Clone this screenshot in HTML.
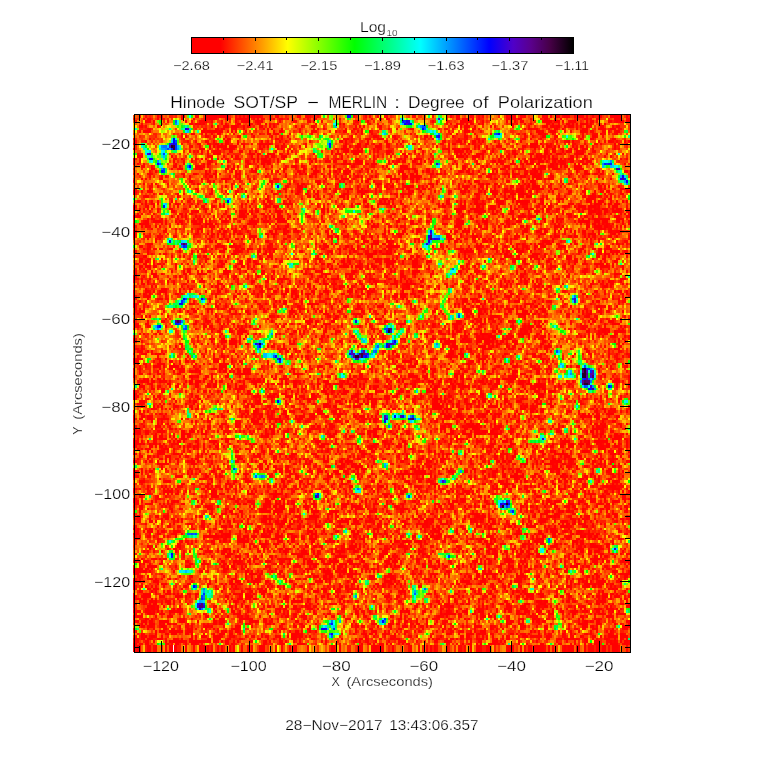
<!DOCTYPE html>
<html><head><meta charset="utf-8"><style>
html,body{margin:0;padding:0;background:#fff;width:764px;height:768px;overflow:hidden}
#c{position:absolute;left:133px;top:115px;width:497px;height:537px;background:#f35004}
svg{position:absolute;left:0;top:0}
text{font-family:"Liberation Sans",sans-serif;fill:#000;stroke:#fff;stroke-width:0.25px}
</style></head><body>
<canvas id="c" width="497" height="537"></canvas>
<svg width="764" height="768" viewBox="0 0 764 768" shape-rendering="crispEdges">
<defs><linearGradient id="cb" x1="0" x2="1" y1="0" y2="0"><stop offset="0.0000" stop-color="rgb(255,0,0)"/><stop offset="0.0750" stop-color="rgb(255,0,0)"/><stop offset="0.1650" stop-color="rgb(255,128,0)"/><stop offset="0.2510" stop-color="rgb(255,255,0)"/><stop offset="0.4270" stop-color="rgb(0,255,0)"/><stop offset="0.6000" stop-color="rgb(0,255,255)"/><stop offset="0.7800" stop-color="rgb(0,0,255)"/><stop offset="0.8430" stop-color="rgb(80,0,200)"/><stop offset="0.8900" stop-color="rgb(90,0,140)"/><stop offset="0.9400" stop-color="rgb(70,0,70)"/><stop offset="1.0000" stop-color="rgb(0,0,0)"/></linearGradient></defs><rect x="192" y="38" width="381" height="15" fill="url(#cb)"/><rect x="191.5" y="37.5" width="382" height="16" fill="none" stroke="#000" stroke-width="1"/><line x1="191.5" y1="37" x2="191.5" y2="41" stroke="#000"/><line x1="191.5" y1="50" x2="191.5" y2="54" stroke="#000"/><line x1="223.5" y1="37" x2="223.5" y2="40" stroke="#000"/><line x1="223.5" y1="51" x2="223.5" y2="54" stroke="#000"/><line x1="255.5" y1="37" x2="255.5" y2="41" stroke="#000"/><line x1="255.5" y1="50" x2="255.5" y2="54" stroke="#000"/><line x1="286.5" y1="37" x2="286.5" y2="40" stroke="#000"/><line x1="286.5" y1="51" x2="286.5" y2="54" stroke="#000"/><line x1="318.5" y1="37" x2="318.5" y2="41" stroke="#000"/><line x1="318.5" y1="50" x2="318.5" y2="54" stroke="#000"/><line x1="350.5" y1="37" x2="350.5" y2="40" stroke="#000"/><line x1="350.5" y1="51" x2="350.5" y2="54" stroke="#000"/><line x1="382.5" y1="37" x2="382.5" y2="41" stroke="#000"/><line x1="382.5" y1="50" x2="382.5" y2="54" stroke="#000"/><line x1="414.5" y1="37" x2="414.5" y2="40" stroke="#000"/><line x1="414.5" y1="51" x2="414.5" y2="54" stroke="#000"/><line x1="446.5" y1="37" x2="446.5" y2="41" stroke="#000"/><line x1="446.5" y1="50" x2="446.5" y2="54" stroke="#000"/><line x1="477.5" y1="37" x2="477.5" y2="40" stroke="#000"/><line x1="477.5" y1="51" x2="477.5" y2="54" stroke="#000"/><line x1="509.5" y1="37" x2="509.5" y2="41" stroke="#000"/><line x1="509.5" y1="50" x2="509.5" y2="54" stroke="#000"/><line x1="541.5" y1="37" x2="541.5" y2="40" stroke="#000"/><line x1="541.5" y1="51" x2="541.5" y2="54" stroke="#000"/><line x1="573.5" y1="37" x2="573.5" y2="41" stroke="#000"/><line x1="573.5" y1="50" x2="573.5" y2="54" stroke="#000"/><rect x="134.5" y="114.5" width="496" height="538" fill="none" stroke="#000"/><line x1="139.5" y1="114" x2="139.5" y2="121" stroke="#000"/><line x1="139.5" y1="653" x2="139.5" y2="646" stroke="#000"/><line x1="161.5" y1="114" x2="161.5" y2="126" stroke="#000"/><line x1="161.5" y1="653" x2="161.5" y2="641" stroke="#000"/><line x1="183.5" y1="114" x2="183.5" y2="121" stroke="#000"/><line x1="183.5" y1="653" x2="183.5" y2="646" stroke="#000"/><line x1="205.5" y1="114" x2="205.5" y2="121" stroke="#000"/><line x1="205.5" y1="653" x2="205.5" y2="646" stroke="#000"/><line x1="227.5" y1="114" x2="227.5" y2="121" stroke="#000"/><line x1="227.5" y1="653" x2="227.5" y2="646" stroke="#000"/><line x1="249.5" y1="114" x2="249.5" y2="126" stroke="#000"/><line x1="249.5" y1="653" x2="249.5" y2="641" stroke="#000"/><line x1="270.5" y1="114" x2="270.5" y2="121" stroke="#000"/><line x1="270.5" y1="653" x2="270.5" y2="646" stroke="#000"/><line x1="292.5" y1="114" x2="292.5" y2="121" stroke="#000"/><line x1="292.5" y1="653" x2="292.5" y2="646" stroke="#000"/><line x1="314.5" y1="114" x2="314.5" y2="121" stroke="#000"/><line x1="314.5" y1="653" x2="314.5" y2="646" stroke="#000"/><line x1="336.5" y1="114" x2="336.5" y2="126" stroke="#000"/><line x1="336.5" y1="653" x2="336.5" y2="641" stroke="#000"/><line x1="358.5" y1="114" x2="358.5" y2="121" stroke="#000"/><line x1="358.5" y1="653" x2="358.5" y2="646" stroke="#000"/><line x1="380.5" y1="114" x2="380.5" y2="121" stroke="#000"/><line x1="380.5" y1="653" x2="380.5" y2="646" stroke="#000"/><line x1="402.5" y1="114" x2="402.5" y2="121" stroke="#000"/><line x1="402.5" y1="653" x2="402.5" y2="646" stroke="#000"/><line x1="424.5" y1="114" x2="424.5" y2="126" stroke="#000"/><line x1="424.5" y1="653" x2="424.5" y2="641" stroke="#000"/><line x1="446.5" y1="114" x2="446.5" y2="121" stroke="#000"/><line x1="446.5" y1="653" x2="446.5" y2="646" stroke="#000"/><line x1="468.5" y1="114" x2="468.5" y2="121" stroke="#000"/><line x1="468.5" y1="653" x2="468.5" y2="646" stroke="#000"/><line x1="490.5" y1="114" x2="490.5" y2="121" stroke="#000"/><line x1="490.5" y1="653" x2="490.5" y2="646" stroke="#000"/><line x1="511.5" y1="114" x2="511.5" y2="126" stroke="#000"/><line x1="511.5" y1="653" x2="511.5" y2="641" stroke="#000"/><line x1="533.5" y1="114" x2="533.5" y2="121" stroke="#000"/><line x1="533.5" y1="653" x2="533.5" y2="646" stroke="#000"/><line x1="555.5" y1="114" x2="555.5" y2="121" stroke="#000"/><line x1="555.5" y1="653" x2="555.5" y2="646" stroke="#000"/><line x1="577.5" y1="114" x2="577.5" y2="121" stroke="#000"/><line x1="577.5" y1="653" x2="577.5" y2="646" stroke="#000"/><line x1="599.5" y1="114" x2="599.5" y2="126" stroke="#000"/><line x1="599.5" y1="653" x2="599.5" y2="641" stroke="#000"/><line x1="621.5" y1="114" x2="621.5" y2="121" stroke="#000"/><line x1="621.5" y1="653" x2="621.5" y2="646" stroke="#000"/><line x1="134" y1="647.5" x2="140" y2="647.5" stroke="#000"/><line x1="631" y1="647.5" x2="625" y2="647.5" stroke="#000"/><line x1="134" y1="625.5" x2="140" y2="625.5" stroke="#000"/><line x1="631" y1="625.5" x2="625" y2="625.5" stroke="#000"/><line x1="134" y1="603.5" x2="140" y2="603.5" stroke="#000"/><line x1="631" y1="603.5" x2="625" y2="603.5" stroke="#000"/><line x1="134" y1="581.5" x2="145" y2="581.5" stroke="#000"/><line x1="631" y1="581.5" x2="620" y2="581.5" stroke="#000"/><line x1="134" y1="560.5" x2="140" y2="560.5" stroke="#000"/><line x1="631" y1="560.5" x2="625" y2="560.5" stroke="#000"/><line x1="134" y1="538.5" x2="140" y2="538.5" stroke="#000"/><line x1="631" y1="538.5" x2="625" y2="538.5" stroke="#000"/><line x1="134" y1="516.5" x2="140" y2="516.5" stroke="#000"/><line x1="631" y1="516.5" x2="625" y2="516.5" stroke="#000"/><line x1="134" y1="494.5" x2="145" y2="494.5" stroke="#000"/><line x1="631" y1="494.5" x2="620" y2="494.5" stroke="#000"/><line x1="134" y1="472.5" x2="140" y2="472.5" stroke="#000"/><line x1="631" y1="472.5" x2="625" y2="472.5" stroke="#000"/><line x1="134" y1="450.5" x2="140" y2="450.5" stroke="#000"/><line x1="631" y1="450.5" x2="625" y2="450.5" stroke="#000"/><line x1="134" y1="428.5" x2="140" y2="428.5" stroke="#000"/><line x1="631" y1="428.5" x2="625" y2="428.5" stroke="#000"/><line x1="134" y1="406.5" x2="145" y2="406.5" stroke="#000"/><line x1="631" y1="406.5" x2="620" y2="406.5" stroke="#000"/><line x1="134" y1="384.5" x2="140" y2="384.5" stroke="#000"/><line x1="631" y1="384.5" x2="625" y2="384.5" stroke="#000"/><line x1="134" y1="363.5" x2="140" y2="363.5" stroke="#000"/><line x1="631" y1="363.5" x2="625" y2="363.5" stroke="#000"/><line x1="134" y1="341.5" x2="140" y2="341.5" stroke="#000"/><line x1="631" y1="341.5" x2="625" y2="341.5" stroke="#000"/><line x1="134" y1="319.5" x2="145" y2="319.5" stroke="#000"/><line x1="631" y1="319.5" x2="620" y2="319.5" stroke="#000"/><line x1="134" y1="297.5" x2="140" y2="297.5" stroke="#000"/><line x1="631" y1="297.5" x2="625" y2="297.5" stroke="#000"/><line x1="134" y1="275.5" x2="140" y2="275.5" stroke="#000"/><line x1="631" y1="275.5" x2="625" y2="275.5" stroke="#000"/><line x1="134" y1="253.5" x2="140" y2="253.5" stroke="#000"/><line x1="631" y1="253.5" x2="625" y2="253.5" stroke="#000"/><line x1="134" y1="231.5" x2="145" y2="231.5" stroke="#000"/><line x1="631" y1="231.5" x2="620" y2="231.5" stroke="#000"/><line x1="134" y1="210.5" x2="140" y2="210.5" stroke="#000"/><line x1="631" y1="210.5" x2="625" y2="210.5" stroke="#000"/><line x1="134" y1="188.5" x2="140" y2="188.5" stroke="#000"/><line x1="631" y1="188.5" x2="625" y2="188.5" stroke="#000"/><line x1="134" y1="166.5" x2="140" y2="166.5" stroke="#000"/><line x1="631" y1="166.5" x2="625" y2="166.5" stroke="#000"/><line x1="134" y1="144.5" x2="145" y2="144.5" stroke="#000"/><line x1="631" y1="144.5" x2="620" y2="144.5" stroke="#000"/><line x1="134" y1="122.5" x2="140" y2="122.5" stroke="#000"/><line x1="631" y1="122.5" x2="625" y2="122.5" stroke="#000"/>
<g shape-rendering="auto"><text x="191.45" y="70" font-size="12.5" text-anchor="middle" textLength="37.00" lengthAdjust="spacingAndGlyphs" >−2.68</text><text x="255.12" y="70" font-size="12.5" text-anchor="middle" textLength="37.00" lengthAdjust="spacingAndGlyphs" >−2.41</text><text x="318.79" y="70" font-size="12.5" text-anchor="middle" textLength="37.00" lengthAdjust="spacingAndGlyphs" >−2.15</text><text x="382.46" y="70" font-size="12.5" text-anchor="middle" textLength="37.00" lengthAdjust="spacingAndGlyphs" >−1.89</text><text x="446.13" y="70" font-size="12.5" text-anchor="middle" textLength="37.00" lengthAdjust="spacingAndGlyphs" >−1.63</text><text x="509.8" y="70" font-size="12.5" text-anchor="middle" textLength="37.00" lengthAdjust="spacingAndGlyphs" >−1.37</text><text x="572.0" y="70" font-size="12.5" text-anchor="middle" textLength="33.80" lengthAdjust="spacingAndGlyphs" >−1.11</text><text x="360.0" y="31.8" font-size="15" text-anchor="start" textLength="26.00" lengthAdjust="spacingAndGlyphs" >Log</text><text x="386.6" y="35.5" font-size="9.5" text-anchor="start" textLength="11.00" lengthAdjust="spacingAndGlyphs" >10</text><text id="t1" x="170.24" y="107.7" font-size="16.5" text-anchor="start" textLength="55.02" lengthAdjust="spacingAndGlyphs">Hinode</text><text id="t2" x="233.51" y="107.7" font-size="16.5" text-anchor="start" textLength="64.50" lengthAdjust="spacingAndGlyphs">SOT/SP</text><text id="t3" x="307.04" y="107.7" font-size="16.5" text-anchor="start" textLength="11.86" lengthAdjust="spacingAndGlyphs">−</text><text id="t4" x="328.59" y="107.7" font-size="16.5" text-anchor="start" textLength="58.61" lengthAdjust="spacingAndGlyphs">MERLIN</text><text id="t5" x="394.13" y="107.7" font-size="16.5" text-anchor="start" textLength="6.12" lengthAdjust="spacingAndGlyphs">:</text><text id="t6" x="407.93" y="107.7" font-size="16.5" text-anchor="start" textLength="56.83" lengthAdjust="spacingAndGlyphs">Degree</text><text id="t7" x="472.36" y="107.7" font-size="16.5" text-anchor="start" textLength="16.15" lengthAdjust="spacingAndGlyphs">of</text><text id="t8" x="497.76" y="107.7" font-size="16.5" text-anchor="start" textLength="95.06" lengthAdjust="spacingAndGlyphs">Polarization</text><text id="d1" x="285.16" y="730" font-size="14.2" text-anchor="start" textLength="97.47" lengthAdjust="spacingAndGlyphs">28−Nov−2017</text><text id="d2" x="389.21" y="730" font-size="14.2" text-anchor="start" textLength="89.40" lengthAdjust="spacingAndGlyphs">13:43:06.357</text><text id="x1" x="331.43" y="685.7" font-size="13" text-anchor="start" textLength="8.31" lengthAdjust="spacingAndGlyphs">X</text><text id="x2" x="346.46" y="685.7" font-size="13" text-anchor="start" textLength="86.49" lengthAdjust="spacingAndGlyphs">(Arcseconds)</text><text x="-0.67" y="0" font-size="13" text-anchor="start" textLength="8.31" lengthAdjust="spacingAndGlyphs" transform="translate(81.8,434) rotate(-90)">Y</text><text x="14.36" y="0" font-size="13" text-anchor="start" textLength="86.49" lengthAdjust="spacingAndGlyphs" transform="translate(81.8,434) rotate(-90)">(Arcseconds)</text><text x="160.9" y="670.7" font-size="14.5" text-anchor="middle" textLength="36.20" lengthAdjust="spacingAndGlyphs" >−120</text><text x="248.5" y="670.7" font-size="14.5" text-anchor="middle" textLength="36.20" lengthAdjust="spacingAndGlyphs" >−100</text><text x="336.2" y="670.7" font-size="14.5" text-anchor="middle" textLength="28.85" lengthAdjust="spacingAndGlyphs" >−80</text><text x="423.8" y="670.7" font-size="14.5" text-anchor="middle" textLength="28.85" lengthAdjust="spacingAndGlyphs" >−60</text><text x="511.5" y="670.7" font-size="14.5" text-anchor="middle" textLength="28.85" lengthAdjust="spacingAndGlyphs" >−40</text><text x="599.1" y="670.7" font-size="14.5" text-anchor="middle" textLength="28.85" lengthAdjust="spacingAndGlyphs" >−20</text><text x="130.1" y="586.7" font-size="14.5" text-anchor="end" textLength="36.20" lengthAdjust="spacingAndGlyphs" >−120</text><text x="130.1" y="499.2" font-size="14.5" text-anchor="end" textLength="36.20" lengthAdjust="spacingAndGlyphs" >−100</text><text x="130.1" y="411.7" font-size="14.5" text-anchor="end" textLength="28.85" lengthAdjust="spacingAndGlyphs" >−80</text><text x="130.1" y="324.2" font-size="14.5" text-anchor="end" textLength="28.85" lengthAdjust="spacingAndGlyphs" >−60</text><text x="130.1" y="236.7" font-size="14.5" text-anchor="end" textLength="28.85" lengthAdjust="spacingAndGlyphs" >−40</text><text x="130.1" y="149.2" font-size="14.5" text-anchor="end" textLength="28.85" lengthAdjust="spacingAndGlyphs" >−20</text></g>
</svg>
<script>(function(){var A="0123456789ABCDEFGHIJKLMNOPQRSTUVWXYZabcdefghijklmnopqrstuvwxyz+/",NX=248,NY=213,D="8985D85767B846598A6676A902ANcQC45DC730430154444368A26361646445115888579548796797A833AB34566656ESI8LNCBB9BDOpmQ567C964848D74CH538678FBJLB87B55B7797HVH5AJWPDI6816843B87B745A6562979ACA96FC745154C70529788FD8A452A38A44751247736334737636640787A3244409716677B95843697482586B7GKFB0GAAGA4999762541056B98553BB4343243C6573835985629644665A97AA79674690599989ALM7GB3A9FSOCC88B9669838BG39E449B9EAecHMIDBA69A89AA988YrdSF7EC89348243884D656698BC8AADAH8546516439A9857EGE66436BC5895CA79986677604659A45788H67842148A5395BB8E33284CMQB6C5AASjbMCD4BD58D755546659C775A7A6DA46823219B754538CB8AAE717C9AA7559CDAB5483HSD4CC99ALaJ6ACD9DD6528RO73796D98BBB66BDHEUmlopZSABEDDCDB636McRHF567878A0405406F6861867FEDGADB94A6936903989686JSL540446320A4C9534279679372485BDEAA42652504832E9B85978975ABO8979DDRhdMNJFE536254516C76LWB759269CD643B878258655BC4A56565A9A9B8AFB9A7787ACA4FA997FDCbcQ373AECA5669HJH658AB5A7BC97ADADagnqonZFKPGHNAB87INNQN759599460572A45A9263B8AE78E9CB8676565A7818627DBEDBA3364775A6843637393441616B877C388CBDC977F98EFA50659CC9C56EADGFDDKPLQUYVLE67686768739E57813480405661733769A0376A47169B8A9BGC848956CB8346CBF68CCAUgI6769A7785A495B8CCAE6488A7EFC97DJKPSSLETehkjRBC8A9DHA9C67712F284328819CD6BAC5C58BC7DCFH5BJT8GB758A68A8544854512794644475747A155C7A7447CDA2610777E7KZL6676526DBDHCDJKXKB7FMWYntfQ76A8C1587891161077C45298707ADOI6B66492A489982C99C99971799BA95B28926CDEFG88793C8825683AB9E8AGC598857GH3COCB9643CDJXnjYNLIHB47A547C58BG6B459G30949CB9EAB766BDBAC88LRPH8374355169786379416936C97793863508K76A3335864118557EC7AH75A41448AAAGKJGBFBEAABBQdfTG9KZH43533431513A85C493ESG84B7E76887991BB489427JD8A67818B7AB3347ACABA6EF576744FE568574ERP35776BWXL96FIBCAB6CBA7BD9ERPWYcYcOE7B8B586FF8E70118588757CDD9IOWSJBAC966789788B968904538B61237CNE5BD59BAA33058557AA845E46951478PU98B8BBDA9FA6688F99CFA6879497C943AB85A587379428DAE8D59AEA5788488B56693495349RDEB4FAAID6BBI73AA7CG68EIBB9987787B873873AGB74669LcfUDADA8CBC87A586EJGIDBFRSdbiO98665FD488758DOC5899999D3OklneH7AAB7A627629E379832556B846E7DCDFDCEHCC759687555C455E6965197BD8FD9A677CA77769AED9CBMPL875G47CAA7CG77456946F7DA47889852DPRAA63989999A6497A638949C8DHMRKLOSLHA8RVGKJ868B7D7CC964FA77CD98663057JMC7H54669CJEDA875B7A3485DRlqRA869C3678774276CA5ABHEFLRRYddYG99AIFAFA7856B81678635QSB954FDPOcNOKH86838KN8005BA59DAA8CDIDHPFY269879B95768787HCEGYnaL864BB88C8ABCFD9677IPLI5820BECC8CDF9BE9ECBEDC9C6931657885BA789N98GKGLJMPIOSSMG9EPBE3546578A6B8434A67545E7CB735A7BBDG99F9H7758675FchSB7DE976736650889643766IZOMIDSNAD958ALUO6549D588A6578CE775889IKQNNRMF746DLL306AA987DB63489A86AB838A663B96A8A87BCELenkOA76657C75BD88459737BTP9416FCC28B7B99D9AB6196586E67467568GFFABC99D479A8HLIIVfRJAD53737657BC6679498FD9BA62AC69A6A478CEBA7FBA7799BBNOA5486866523848F74073647CKD9576D96B8859GA488ABAA65DB6E987683A7755484666AB68E998F58A5A4256567D27425ADWXK78C7B9EJILTlqomMG59A7698712C994565427370566AA4B556695CD62053525A6678488A8C9AC964CA9ELMMJJHgmTB8A9A62678EA4477449658849B027AB5839DH8H3597FB6A8967E8559C5A1279566C474566587B96BA858CA66DAB589886D4444B2675616C689A6E6C556799479QC24817788770A59965EB6AGaXRIBFE7KchiierzylfZI8AB5597748DPO493640152B4032A8C4AACABB846475BKD217456H767894DH5DD9IHLNOILVmO9DB9713A567524765877844089527886776JTacLAAE89A78B7E4A866A5A879EAA877A94639E749868343BC8A76E9A9306721356B3A2356295D9LTD946593395AB57687ACBEC7266DB76A469CEYaRHB9BGYgghkgmylgZN8796AA89524FB57B74964252357D7869887GA754786NcND0646F75D67B79BFEHJVNBFKH7RRC846723328C66273ENH8736558A8666B8GGIBHZaL8945CCEB7EGCK95524A525362423B8574A991675687753CBD97C36579977486AE637741C850AD63940C6324H7288879CB7962659AA8HE988DJabeDB9FJbdOHFOVVIHG6BD59565B28A5D655557688129A942A8A37809D78B9DI75DAA6B5B3868GFHGDDBUWPM6C98A2795A753285030029RK695637771236AAB6D7AAA82DB847C8B79DOO78819A340258565BAB97549F6477AUI86682377D5DMI866A9GD026B0387647351C745546BA75588GBA7899BD88CCFAPP565DdrpPHDIQekcN798CA6E9C8IA768759848A4523C785776666BC86244804AVE0051AE557758AC6DGD8FD884HQTQCABB490536D6B99445D8ADA6A69676A3585BOUG24E36B685B59B84CUMC99BB69F747374858DA342477A5B7AA7E7857545977DA61485559106187130659799532349B56779B7A95CF85IaF5D79IG232DNdZVLINMYfVJC386C9C86JVLA7DGID8155HF7A947A9395587BC76498186743822698343A8FFIC867E878B7OUSE769B66C70996A8B8B7996AJA47586B8D5C7BD7813C8ED667699866LC8EF78767F141462884133719C7C9B6B56B55785A9988AA39615154639366987CA7448278A57B8D9A78858C37A7FA8A6A3495FEEUnoQLELKaRJ9B5578269CH5C3692D28D3NT4B59558C63559A66654747423607684861BIDH856B77B63764CBD6659765364989DTF517789C6A56CA9L88AEA653608A6A44147B9583AAB7BAB451BD88848CA55C773BB8B67746947499AF2965E71425337474734493756340D6AF423B65B8A9GDAED879D5763A6895GCBLZbNQhZLKMH7A296875BJB37697CB953577ELGVI2689997JA516858495202076948GHID88A46GDEIB63959687455B3599A5487D83414D67783APQLTE494653734ACA416A583C727OTSCBDPCB757BA6AFADA64DACE786137035698C0BVP5933A4467404756952651456611876557555AE8APZcbYhUD767777B5826A588DKGWojRNE7CC648993KYUI867B638319B59A6ED8976DG8CA64466698216308D97DA7AAA9E78C699D5AAEB9D9AA99766653552645305E5474429DFE856C46DC7896C665129DB95GUqiNAFD79584CA9667CVB259EA66D8C2A54BA8454CA5483515F24BADA7415260047M9A1C3C515964DJ9NhmlmmZAED874B698AA53A8856LTcbJFAA933957BTinTE222539567889ASUB4694A5AI956GE9719907795BB9B9756A50169456CC8647689C53A4798877F82267AB678655788384CGVHDA04038C67998A9CCDPOZdG98A87DE6CB346C8E7BD647176AA87974459B86B75788AE5A6404950155A4725C981233AD78B7ABCHfXQPfebcXK98A96BCC6BAG9209DNhkUD8288533AQZfU725127CB68BBIHDJ43924E7EEAAA94918EAB4678CCA6E25AB99569A35B938487B4BB7D8B537A63B78B983A558A8B8B7694BHAA8452436527BC9834877DC4898B5BFCEB049378EB96A4EOA656C4458386512354C985463054C695345676A2DB22005DCA8D8458GFCAEFSupRB9AB89DCC8CB56837SmlVFDCBCADA97LI9999899372972BCA86C65C3759E896554LUFB89B4F64C948AAC7733627B984026C79A3A5165D0254C97646875B596BBBACLA9E95339868740BA57447588H675A98C88545744858748A8FUG583CA7657A37A68855755247378987997779AB67EA1688258EA864919DC9BJUYYH047694BFBA53578AFOQMDMYR98852C998426977106704E2AA877AC2009E688A986AC8A59686A4984ACF9592562E85038857B63E665885447B3967A8D7898669BAD9B88C4D45973282AB8A76337164637E8C746788754577C836B53556975434B43359804A3315427KVE57AEA8C86637A6B7742496246458F9B4BCLYUKB6A8869D97396A965A56CGN77884991789A9B6560494D998773B7361CIA588679B88466B77AA87399A6687898A45758AD5794B7587576D2965065B7A65737DBA232B6B983349042345A99B5668CC77A7A8AG9AFABEA79A559A5427676B8682D3566250669423357EB6149CD99AA4679B68567ABB9A3779A87DDJTgoeV77A9B49396ADBB54BA9BA9D9OQED75BA88B4863888698123257C600BAB65B57CA9DBC7945578DD67879A96B8A989898882D97B5592234D6568A6G8348AAAEGAAD423249346702722785766AFB7BECDB9D87A6B8CC7AFC989AC95652B86A78988I769A74A5A442756455BCB7EVUAA65BA7885E7DCNAA3D8839BHYpumYH5AGFB799AAADGBD567B989AHPH895467796D933749967C478969956ACA59AC8IJRJD327669DQQB6D56787997C9C524856ABDE873658736B76B5B439D3666A79E49917C88GI63847ADAC96BA47G9BC9F67AA784837B4458777887799A7B45BKLQI839682359DD86A8CEA8D3CXS96A36897AD87D94AABDA8A9ABOXYgoWA7A793C783D48CHGA5C799DEIQG8965736JSKD6GP9DAACABA56G9B76FSIAE87HQTD6C0CRXT9A96297638536688BC05E68278D53PWN5878C9A6A9876IC544C75575FA6847TN98EA8A97954582A87B98H68A376A873AA84516328920C687DCCHDG5864648317BAC77847B9775C846797DCAB697967573787A79DB8KZhT8B8D97B755BA57AFD6AA7DA98KQG6CAB8GDB98DCPLDB6908B5CWL49BBBE966AJSFAA96HcoZN955788714365BE68C9GPI6A99A56RXO997D97269771IVG846F556249D79543444AK56575B6299ABLC69EAB8494505872A745B2AB75737E76813C664575471045C67C459998596BBD982C6968878994283B4DB98067EH772DUK6CA27HCA9769BDE979896MQF9835E88B775GNA86CC8D5DE6729HDB757JSEE7879BMWM8549C8B6535TSB87B8CBA538496465A73512A74806767C9286GE5566846659437785274494698DC5VIA7996756A229787847590F684789733737A433064864542048884844788A477BAFA8C46788BA546498C47AA205564469589424ACBAB78A89CBCTI7JVbQG82BD8D874AOHA695GXJ9557793CA7BCBGEB8A849C65785A9486116EN56C3A48A669B754E8767077A8420525667575A86768A7CL678352CA6498BA691A7BQM941ACBA152608A9951648F54257A633554644116B53D7367989573AA77898149B8A812GPB94A845B51997875A712457E79797957D44B778D964HF5AGIITRIIEA8820AJNGC695DC94GBMQGBAA8A5AEA599A126Q8A9B98A3467F55697239A986577IME6035799867228AEI758N997A5615B3255348FA7929A968998KJAA57AGA9736978C135785IXI324A08489402B2302565776C97A8BA69B29A7646CC8C683FL8458CP91A6568A71298EF9E875247679DHJFH8878C36C9997EADNTUK67798ENRSHAHHH7G9BTcM5CAE9BDG8D37A7C977959688B8769B53A4748C5AA719BA40274CAB6B84F95FRED9G9DDE9985B638958BC9649A80768APeV9AACGVM98BB86D975589A6B8759876374628F3518134GNDA7575DCCD657858AB97BAB527534465586594B696966GSVLAB77CDBAADDMSG8D66DX9GF59763BC9CLUVMDED579MTYfgKBE87CEA9FB86H6B8447E7FWSBBA377A88958ADBKC554AA9759AB7AA574E6688CA66A69A8C64548416B877D9C6B9977DC749579ING86387EC96888B9451498A6456B46BA547733E6C97778868742B38C9C2134A6G8987AC8B31115AC865A44C9C989A9RJ755784A629A59PIDE74E6AB6C95586D667RYOC965CAM9SnbMDAB878B1C827C873A3367FWSC56947798D98CF6CCCCGAC8CE7958C7BED977A99A34BKMSA846373858874A9AD9C9ACB9AAB75897BC845BBA575729876546636869F833226CCA284432035A73AA53DBB7CE80A6BB9689BA698134B294428C937949B074C9ABA5747645E2BQdeM4B7416D587657947985BC699C194CQKD7A9A070994779F7548557997843444D7DON8CJ958G56B6A58DB787089C92A654C683AJHD551524B378955B9A388EA9987CA8962A08517GUK7294B857115224BBDDC63136C7B880B544077CA8553D5F5875ECCBB3539656AA9B5723039093382048A96834B78754A92D8ARmbK6A6B3AA7783AC27A509AG546B573DADMGDA729695976HPF72158335MSH8596CA8DAHA97AA956F3A7AHPG5670AB747KRF964484BD5AB966273DAB7168B9D698D7779BAA3633766IA86204A797A33648E640574B98BA49695655587C755863C406B98853547B4603338444054788B58434989959069485A3C59A56MNOA33798A8048CC9BH77546C6C78DGGF69B6CB7666AA5A5699358898486B799678A9BSaI9BA85995383BADAG87GOLKJIHHEAAA8A259BVbNB88NA56A27A7BE87CC7A36B8599DA778BI5330259825125338B2204884JMTF195277842625C6864E4459744A9568ABB347536356040622376061228D576EA6967857AC57ITKPE436A97666B5534D970AA6BE8B8957AED6A4453A647539BA79597012596EBB6AABNVHGC96KSD0393A6B5BEHHQSSQdPSTC86597ADAKPB74A8A79E327AD97064AE798FBEDB83788DG4049D7467322434A6718067IND843896CB8849D54385C3576656D4ACAB6895639A424354582167434056A2178285C867C47A9TSZbHA76D2475B64668788765DBE7895589QQ9953360D2679724A6B67A5289858A62AMSM59BE8JVB75A9E9689ADGFAGEGG97AA6FSNDA6BA9997438A7DDCB9877587A7289AA88D968ASMA264796BA87348H9F7446965BA53578B616856AB5BA77A74A8E785C4447FCFSFG9406713574775A8J8584B42334CBBDC59767EHCC837B484638E8746596A7A92F7937803IDC74445998539986474A3B4109A64AA9DGQI70497ADA49DA679AAHNWGAAAE8DNBC7CHA56399D765A78BA75GA7LLGDBBE6268985A61194A77654AF848949AKRK6989A69398A9097223365353LKA69L9BBA48789702646F68357749B5678A7A8242688325FCAC8827357860A6B8AC6577956A748352B7D5C6AE57A4A4D55888589706859365838721002A48A595HSGB87667AA589E79699DA86BEF858EFDEHB9C88A497872AC07326G9CAD75BG895NQC99454569830699C734A8892A57B796CDB960B25E668D717BCXhO44CBC692352B9677CA5719906532541044DFD1030C697ROB65328624425848A8B36446A6C524655D5936669C53457C7A63BB9703055A6454667A12005DDBE97FRIC798676D64CBA68E94595B9A9C9HOEA4A49BAC58FC9783188799139956AC458RQDA86778CC650449CQC87367432779968CB645667443HVMBF83AL774C97493656A8877584304438712273128B8702829835994123078B67958386CB8483669D7223376220493686768D8KCAA8A822554AC987B4EC48899859FB878I7DB9D9CB5ECCCIB76986587B7BB9EJD84692739E836DA76A9A6EB316587DF76GQPACD244B8B70441KVLCD873773297686B64851655B78AE899A26749FF966583678B9A896959745952646453565B88727B0459947355993B3878B4DBEBE968AB87776563825396B7A8FH686A6745A8757788868E7693666118CEC977A9A9B8949B96DXTK8998A5B9CIDB8FFG682055997B448728455979CEE9B7BAAMS7BABA7AEHD02359BC69B8E34A63BA66A47B2648AE9B129468ID8B7AE8A7824564D8FB9BBC8BC13C60111632556A095B2A9678977A665AA67A84BE8839676EDE576035E98B479E717B5B5629C4649C8A8HPEBBBA8655360387862BD58CA98A78C8A967FNTR9989DDD8AED8B7876A7A9A5C7CCBA67827AC79435B4EPSK7856AAA898795592729A36C6553CA84A86BACEBB78767016KWIA726266B946B5D64869BC6879489A55215465197696C9FL529A99A989AA78855BA9A6C977C8A6A6485E9685A86280267B146567636987INCFC815947772516A55369JA879C779CA25C4IWQG716AA8557AI8578889AA9494DHRL7A15AA74A10687NenaI9B977BF4C53894553B76777CDACA51866GB667A77785327BF7425A32ADA4B5BC3A83B4B68428775985AF795355446787835FUC4875A789587B6F986AC6BE5E863568784954848536A59483457975888BPRE4572456BC0279A876A78C954DA56CA82B857GE3774AD7466994C3EA68903B685F5444A5BBB8297ACJbreQHG98645A859927A58C4B666C8876EB57BC66489C5B81A977A766312CGB726696388975CA85274233A3MPDB8534857BAA655GSH75559A745587AGC559E968CGC56668B6962685A72675C7B88A3G81341BTZED5881689878519877598E77C99E8B99451854C94037A785A326752895B656996663099C9DGFDE998TowefghZML445EB8C36767634365A867748FBGA66979155B7A4AA9A8377B8956443B78754625B8647275478687854863789AC26C9A76B3B9D46379EUcUDF9BDEEENB78A9888547788157548AB32847BC593B58BB98BB66898137788A35DE9895C8DBAF76A4KK3B9786746F9B247BA4987EB84C7C77C8BD8D9A564FC8TrxqnpmdeS6046C538A549A33E5C52755B784B755846158CHG3ACD968C767A82679ALDLMC7AB9B8A4A47584656BGB49ED977859987A8BAB9E5A87GIbpYPWURedaPBD8A56FA6A4494DC9A93B389876BFQF94C899D536778G966971EA8AAC9AAFFD7DA49DA86PU7DCA77BBA65AD443A835389B345578D579GE7A585A7NXofQQQPNTCA39B4184977AB638BA53464A687CA748599AA776BCCA9BA6443360997566WcK759DA6879579B5EB7878BF487655AC76CCB6214AAA8CBARPTQWQdtxuYUKB8DAFEA989A9558DFGSG268665BEA69A8AFC8704A69B4BO8DQGAA79887AOD488945B95A57C7AB8787B7826A974533C44B536E6CEA68ETRB89ESfpiVIGTG569B8896BCD8B7A8A9381BDD89785C767DA5A8436357928594136234CD1479DBD5A35BMB89A45MXGTG79C8584565956QIB43875178CBAB7A79A6DCTimlSRKEH8ED9467B8305247D53505467AC6798D6A78445877CB67BGPO6898E94BBI6956543BB7CC6773363AA36BK85B3A7B6882310435DA69DEI98BDYccTF4BQJ35949996AA689829962435856CE53AB6457C384774546A805D540A89DA82324D789D9CA559766DIDDE714C98B5B7868BAD882645A55D5498654DMD6EWcPE89687565B748578812EE9844644A33088649565453489785ACCG7CA8A8GEFB6E85368979A528558644C16558676977961934676B766CC5EC2A4HNcWQ767675AA59C6534373648C345868A6314C9586GQC32563615B837468I6699B36575EADC696448B8A42A22B5444888F9CFAD839A8772677ABCBA79BAD8607IMEB37A2D61576789C453AI795344577598AD00B746265ECAC87BAH79B547BB9GSC9B876532D784887826456886558754646605475A99B6615FDC899EJQGATI8B95BPOWJB72532245FA0479F887847B363599G532367E4867767BAA68ALL8C64D998B4095A7CJ9702G2884550596559BB877BB4656AA5A457968B87B77D75NH97A9DRD5C9FDA8CBA431697878ALPH5B844C45D9B987E9JcH7FCCD6A8UZQ933B6481A963976A2698351840423476351247CF5AFFA9AD76A8AD5H78GC9B77ALFG9B586366667B47767778666574462JSF62C89A8214367469688MK7778A76765788B6TcK51370548384A329667676633ADADAFDEF78A48E85A49869QU55744A9F6D6194E37D8HB7A7DDAUdN64699333AA997B8DAG7BCED9AA8GH65AEUF68BACEDFCD4CC8DA79874429A79BB8896757UO9CB53934798PVIBDADED9ACC69B4872836789676997A48897C35516C52A9AB650528664C78A4A369F41496AA97APVGNM54A608479A979AC3ADFC436655D7OXG5EAFB7FSJAED965EQOA767538GDA9789868AC849CBC309HD820F5683A3776993C9755BA538BG73505D87C5977A74856647987CA5A85545752394928BB4D528507657AF9DGFD9CBOGCFHCA7942A5A8BGBFFHdRF699247IA602237748G3A53083A7232F888CC333A35A6B7GDA587DA31AA7AB55AFA9CA8A448426F48D9685DC7DGBAA78B9AXK96791ACD4981470ABJUG834F8548256C8HD9AAA7935EGHJEIHH8C772FA76B467BCCA3B97327527866277A7778455950150496747877412677A542AAFNOFC9ADCBFaLQA958AA8ABE4ISM8AE7686A9A34JVH23AC869859B9316969E968756614BA85888D8985838C9623CL7H8AD558943B7G575565AFC7849A4B83B8PG90B7B78C9A6611BB7BB7545G7379644689A8EDCDB7EEFQXdRQSAE8F7979479149237BC497456377A6459B5736895A80034AF764776734467CA57899HdXMCBEACBEQFK955AH9059FH98A85A985AD7976DNA6016GAAA466A6839897865838729AC43577944323B06B3B6KXI89DA994384449359B599CCB93ERG8CA8BA79C57ABCB883537CDQK647945A36958CE3789C9457C9E8FZYM98BD9C7EA7AA76784749895531294A4205761B42467C9258486A8A7AA943555E8B5AA9AOL6BJECDOVG55837D64A6NaUE98ADDFB998ARVL934767B67LTF94D664517GB25A963A9898967B97574344591A77629B9B5B470A65AAF97LSFB7795EJG6745895DCAEBIBD578CBD2EOG8824CBB371768A7878889BAA8C9AEDEAEEC663663788458B347579888AB796845C647947561CA74858B99FC4B976CDF9549B8AE8DGBBSjcVJ846649A658ERKD7BAAAD6AC9BWWJ7814B875CNF9A8A63376IXI758675BAC86446A94CC567759A768B2A898497665BC5B7BCCEE9C298CB73923ABB5C4AC558BC8ED2245A8885764CB859PO5488964A7B796DFEB8B85A567BA3553CHD8B6C88A98895356B86CD8EB876AG78465B955876914148887674BA979GCLbccJ53785BCD352688CFBB8B7479BAEA91988486775B73BF7789ECBB8B57669B96145697JOIA586A9B698DAC599088A98EA443A936CCC9CB9C844B578A44535B997D887344A97FA49AE6AAF5LF45E77B4C789A7C0AFHECB546518BB9553509988D9B3355577DC775372989E5857DOF9248778416968BAA45A6CBBDVZfOO39586AA18C277329CB678A9GDC966A4A35069A775687CCB9883A8EAA5AA67A772A9A56EDA7IEC773255FDBF518A657D7D346AA996AA65946858CEC7868AC96A8C956874E6549DI8A476C6069G768379G8A48A8CHAE9A998737965171AB7772BKE5735B6ABMH47569877E537878B923579A65899ABCC5BFHDE8CQXK9EBA78C918588EC76E863938E4899787C74466A98BCDA64D995986A7D44C8BBAGDECHCEB999CA9979567K87JY4257476738AB598ACB4987B7E848BCGB784DDB8A5FDB6B77A8264B9B6486859AJVH5934D6125457AD688869D5696188583744437BG8153598AB66644366AAA64073A937075688A5A28A9BB6A9G8C6BB798CB689586EQ73BDG754ADA8659879D4928474CA9465AB4995654B97A8A7C86A9777CA98889866DD9DA2357G577A3A84696F9667G386579799B3B65F93248CA8BA57DAD8B8865998987449DOCA54DAAA5637A739C774949B8B735A726976567669F979ED747D765643566566773573772646799359EA7CD9CD788A8697FKE63596B379835D797E82826375BC746237D4B4757A9877667C897D87697D77B8B3D94747843368617EBE9B69529566577967E6AA38F865588888HEB8C96D8B333B8A7189467KN8837B79DB66ABELA0799559F67617954ACA937433D451876JQD9884C5189C7483FEC758532387533133366797CCCADD8BB45A8756G869932A7764879ADAD9747937389456724BA72A349KBE88767C5BGB99BD66979B156695572724BGE73A5976867688A285DA99CAABA9CB57857668HSE5AA83755A62CG6QNA9HIScKDDA3636B56A8768A298AGC8D58A7C54A3BCC9C6C67566335D5C1568963FTJDC6ACDAB87983C655449C76834B7379F65BCC49649BE94668BC705877FA6B6B7065485B97F9AC7EA652464C645CCGF7CUdIFFCAD99696499A96544706EA9B878E7CB8CA267668993426BC7AB483772299ABCCI98CA9474868BOM9AFBGJ75986663E8545A83B8F15B665CAA7694862CA8A28C9436269B9339855244G5619796895599A9905517588FEAA77ED383CBBARYH9ABE72649DA54B0767DQAB8GB68AB8C98DUMDA693976D5596AHZUEBFOE9A4AEBC7698ADD8C68AC87ADA9BAC718ABC721572B6344378A77C4987D6DB789DA4DG7681498569AA4A7AA8E78577536C67C23695A34B5456A1B87945BA685227C49CEA79433A3673C7253569BG5CD7EE9B64BAB8367314ADCFFBDCFHFCTZEC68B6758AF7ABC88257B59487DB458DA6589BB8A7105898668CSN95568887C929B7B99349985C79C4622B6375886945746D855C838DA744657JeUUPMC5A9ACB56556678DI87A54C33BE356265D76656689422EA4546D3A44484CA33962ACCAC845995686693592478677E8A89D5592105A4227772AB4DA7179JBNQBD998972B9486758BA675629879489248E526885AF8BC8CB86B84D8EEBD6EILH9934GNC286799386D888B62A26057885540JRI867A56D7A966PZabUXdYcLRQAA77B5BADDG9AA04DA8CB7CD96475C85488CCC728B94714A8A73968A637876A7BC7979656576358D80699798I476A530C1336A78361798G77667BIAMOBBC6AC7A9BA887854C878487578A5125B84688668BB5678EDA5678F579FDCLdiT8769477A56688796F47769598655AC9BB38DD6342855D988HJVnkQ699IOYoiR627C9A63983AB3C6AAA49E9BBAABEAE975DC989EA98018958D489CCA687535C74686A6PLI9889595779275DB676D75776394CCAHB8953A9B9B99EJTG4889486503C32238EXD662479BA6762A77849367879972769AABCEYK4A68EPkscF767777A8AA8455DC2664C63AD6963795HB897687896IEBPWbliZK7A57BPecK93EE66977798G9DB768568C65897767E86474942B677AC63DOI67C67555687F968189BPMB8D9FBDBC99BD9BAAB7AD909D9A639PYL6A93EC99EDAGTNA6AC8677025994634794C568A866AEC466001EA6A8A637775853489ACB6DDANeqYE657DC91844A8B7AA9990655DM436EA26A9EAAECB78DQLUVVooTFA45376BMI9699939598577BJRKB77A9A989517616D94777733DDD65673AD530542899475A57A95B88B8C837587B7785975BBDPSGGF9D6563AHE9DDAB889A77OOBF9AA36274B637B7BC2649C8276A87DB7AA99BA7544547737C9776B99DF746DDLQJ79B997566979ABACEA79176B77538894758AECF779NUYXVROWTH8C99C9A8B6CABPG2378646B39BAACCF895BC8547887B35B66E8696660367F8B27B88AE98649A6E8435AD774477B69869312B88FC9NaNJC795B5A7CCHB678768VSDHA7C2858629964814836793270755B36A76473709B3621A83B758PWID7067C3B8B9EE57779644452D36C74CC8E9AA284A1BADBGA7767GEEE489596AC80594ADB64557926556A4457784A967A989462758F977IOaT9948B615397A8471B7B7C747899487HCF724547A8468B879598AA98CCEH99552AA5BKRC99559CPOF9B9CCBD45227AG820025773C376950242A2642798768B2325B59PQA888AA678873885178B75D47BD5586A899B9A956444EDB988BFA5AJE77A737D717722EA9C8295AF9BD9863A859D8G346962AA9458C994NUNTI84246A478H29B73A54D49777A526B8RS7788A45BC5A559A836C7B577688C9675699KSPAD43GA5BPMF65A8IG73021FRN43616A398757968339B5AA02195A6286447CCB9773B687B49A5927463DE6536B548BF98A3E897606AAB888897C2AG8DBB8HEGD8A5689B85C87A6C3777ABA65556488A549869BCAAD8667BCADB955847A288A7A7888A1227B18966698B63543658BG67539A4BE6F6DACD9B99669CKQEDDD6AJ484AQPDDJYjaG65606G914572A6BACCDC5486AA5434354D5063696398A98989B3289988936543768847B9889CEDA9GDFA7774F583BBAHEBAG288DAD6BDDF98766B86679A946B577676A7779DA9AB9HABHCHB45565787C7584C69C8687COCAD8A62476317B62ACA75861BBEYGB7983CD96FABA976KGCCABNbQBIB7837A986CPeWEYlaT70373A9477786344456C66ABABA3554B786C85665688B9A9E8A55B9A84775407855CFCDBCEGKQKA65A787FC8AFBBORTXR885969EMNMJB57B99BDB7617A799559A63989A67DA277BLZJB98749677CD6ECAA98778E4BA56787948767B446A8A8A86OUHCAB7496G43497CEDE829AA9CHCE7JQPN9B39A576E96ATaTCEKA9566B7356194C2459846699BB7BENH74AA78CCBDDBCACAAAABDC99CBIYL769884570D66756C66GC3D9C06689AA9498ACMF2477BQduxuiVB8HE8368A60259B62697756CHBB7918E6KRIDABE7B736CDCCAA9H99HEEDG42339357B7DA740GBC8EGA8HYpaKBE76ALUGB79457997G8795TcNBA8677667667B87DEFGE9844079D8647554A3C66558707BE3445QaRA786972635C26CEEHB98C8BA578BCD7683A3499469A2246892CBE9924CEB449BEHSWJA797GWmmkcPJF984487636576BA85B295B74A79C9589OXM99ACAABB9396A63E646A639B8328A1EAB3454BA89C598B89OSSADC5C56A86666CRWK975340DGBD7289693D74574IWG57C4341575E7G93694258A5777578A8A759APB6565NB365B1C9HTKKG8326CB5B9674B69A47DA97706863344BBADP9226BE635JZflnYH3897CIWHQejRAB7897B33C14898646678B6926365747B9K5ABAC98874E62BD9A9D8C665F7746884927677857499HD688606A8D458CBFHSgaVcK78579969C96694886625668C5A7C603665BAHB5B834679D6675988A895468D85453449333B8DEMVcTD98ACCAB9665355A8A8846A499A79A8474777A686DABGIUdgaMD8BKM87BEOjkTD9B368D5A665578509DF36A584458A895249BBCDBLA7979C9077AB6787396AFE76C71869377997ABCDLLK98ADB70576CQkkwvXT78PVH73CC985878EA68989A66C5C714636F885A6457B29FA6727BKTJTL56C9114533A6A7833ABAELOQKC6C5693775348577496523359AA85637C8JFAA7CAED7DB57CB7GbaI67ALUOAA89A9BB8A9B177539IZL536A544347CDDBGGJEGENYIG88AA67A755D5A376BB6CECC54A9AA303CABB79VbVB79E7795A95LYlztcIDOZXI66BBB7DEFJA85299437863B3722585679DA773A798743A33AECC678B605436198774D77A8ABCJRRNEG6BF9998812776625325498355215A7WM919576AB64B46BAAKFC76BHPJBFECBDADHN8798GD74BIFF869354A91B96195DBFIYhF363769C2467C57588C6789A959A9573788GVD69HSYQCBE9689A586GPYPIDSbUCC6B8BURB5E356689E6235748207C9A285D942612025487686MUC158H7442453BCA358C6B4BCDCE9KSDA9DIF067685D7C535642AND43CA77BB788G9867B6B8BBA9ED998766DSNG9CA85B6C8FE6AAB476RZMA9795CD4ENM7A779AFRXRE6A8CM987687A84A9I88929945739997B9CAEB755DVXMLMBB4D7F63689BbSaQCAB3H9EVVE9F94AA368A977DAA36BD56437AB72154551424MZF574534EA554973B8556444A68A3BB978A688956363B5D4C71848995226A98465559689B788CGNC9C8BFEA88D7RWHF67B6BC79A454E9952AFA356A5B5BbeUB78INTTYPFCCB5A8B96A6599DAC9A5AAB04767CTJ7C968877987KSfaXF474A97038AIdQKG554A99BD96CFE88534A705074EE7B96145568C33044306108BD50340768ALS9B5D74B4548B3CCC9966C665A889ADGA7E5B89GB9C676680B568535AA5789C9BEHA678GCAC9D9EIRRD6685798DAA07GB6224C532374ACFUPEQUXgZUGE688AEFECBA4847ACBEGAC66AD85767BK8A835EA84A249CXfaJ757DGF7EPWcjoeH665BTC558949GB665HMG37210034AB03544587334B0132064753759B455EJN8BEC8ACD7436949BE69896E968A7698859A68BBA898774948938F9ABC8C76978A9AFAEDECA7934DTO9C5AD85BE4A85B68568B3445938C338HfnrzjcI68C579895BC5306PTKD88A58AA6BAEABCE76A5BIBCBDBC5DIM983FTeSNXnttskRA7BCB6BC87ACD7967EZhWD3522635CADA9C777818A750370854576467C45877B676AB7A347837EFA8A99C99C8D64879AAA9AC8A8B6JQR65B1988867746AAFA89EFDCAF69A37D49SUMD86CDA989997857956D87949CUBB69DQYjnbQD3845966B4899999CKBB749CFB975BA89DE8A97DFA6IUH49684EABMgjXRgovhSLG764748D777683E598FZeYE07D65345B97A476888342295536069AC45855A992F868B776472345C9685CCCC986DA9D698CF7D96A5A9BGOA13ACBB8336358BBDD8997CBF9A686565UUQRCAC9A86EF885B96097987ACEFC97CDFQhUG96BB87936515A3C44BFA578B7C7TTAC57669D6DF9A7LRLD9GSNMBCGbfdIGJTTQFB9A672C8B866977C9977BGF56HVK373593290048A4F924114889768483546A44AA8C6675868447A7CQNBDCAB57DFJG93589CC87A7BB467443B7C69874238648488AC576EB899876AERZO9BF69A4C7C9F786E9C664B8789E88E7NcUDKGDKILJA46954BA7565C9846A86EIAC98AC98CE9AAOhtcJOakteRETijN745C6943AI8ABA7B83896CDC356A7968BG624699267A63667B74789HE69C88778779887F8689776CCAC5A49VkfQA99BLHDLUGA930886A89968576882568685AB6523BC3645364AEJaPDA66C69STRJ9C567B7D4A9837988DC3895D799647D9KffabYfbPD696EH48E7AAB97888685D6978667A948LYortejwyvsmSgcTA82D9690A57C6677AD18B769E699A59ACC741169534SbK63B73A477D5779777456EA49DDA846640B8463CCABRcbL7AASSG5HVK49F52D676B7C8366636896258956EE8ACCCC5ABACESZRH77BLB49ReSBC83C88A5AA6036596AB58B96G98D679RffacdjoVeTE7C50886A4A5566A7BDAD7665A9AF87GTWiuzzsymnkYbbF8D9E8276632E3867678A6799FDB869BCC7334555B54NVH8AA3385528D57778568867ATaI978BB506537769DN7ISL5BAFA4AIRN69B93E97975984A75578476415355BHQTC96458A4CBFCAHAEB1A6FPK88A97AF94557A57F85778986AECLSFK89GODDKPVpxeR796795HC7D646A6GTK99EA8768CD4C7CCPersebZPQKF9ACC86E365798A7677445F9C58AA5555ECDCB73997B39477BCA73103969628A78RcO688KSH82578FD9B53564D8B9WQ5BE7ALEHSO75767B7779C8B6A963367A9A442DH8IRA85773898D249790DA44765BC89BA7AD354EA5AA9366B55H9DC7C7B79895BDDSfpdKNUOAADKQE8B86AA8HB78899CFXMA79AD9ISPROXSTHAA68599969C573CC23124863FDACDC869AB68AA9738ABFLI7524B64A2A5B983A85BQZR63877599D8689HTK3817A588GQJFBF4CFLWVID69638A7BA7476795778A9Q685FB2476F8730538B7G4785BD89B6D28AB2A72888A45505D6696B5PWA7A9DCBA8C4D77FKOMBOaO86CBA6ECA9AA9B8A84529BFBGFBCB7488ACD6DD19A807FC66765977B7C85935CA79D983B9776593CCA7B96643566C7A558B48B989C48B37B19AB7284975C7776B6A66KfbNHD9C9BSVOXM878B7DDNB67855AMK496AA77178166A4241937E41304837CEBA367099A9CA7991442LVG3A88AD6878JFDC567694BB9649BAB7BICH6EEC38785347B955BAEEAB8A95BB77A3ESF37AAB7BA5CHI5455793545DA6147C777A93769B6BAC567C84978AGA578BA865467A8AA201668CC855565A9FA36997VcfP5848944MckYTOLF973AA4A277APE65494B646B666B678186E803E65423CA67744789C86444843749E5A636A1343NWL856676B8BE9987AC954788EVKC558E5BA4B88AB5G8698785397762BB55867A8CHAEA73A6519799A766844F3538B7BC43BAB9A41763767BG6567C91177639736868C6787AC61356A7554AHLAHKCFMMHFA8QyzmlheN82878E84578CDC6CK6B8477886B662A76BB884A7255B8545453CABA889D72603B26182493545CFAB9C6A89AADA55AAC574A7ABC58679B867AB7BA9AD78GD9F3A866FGD792948C4B876FEA55A97D89CC7733AO7457B8796CJF76596359975LTJUK8683868BA996B242F9976658843B7C573DOSD9A8RcfL9A6avzsamtZC27CB998DC9BE99575B814B96287835759BD967439B9DD998758ACB7466B98AB4EI7504314148966B8CA7AA967789HWK9430547B8FFDHVN7EB9947CNUcRME6BBBA33986B9C9A89HBE647A98B9A5558888680C65A9B99A5MVO25564AA96587D9NG2246A66992C98257G334AA8A834888738B8EMMEQSdhUM87ezzuTttfI89519987397A789747ACDBFC9B3A9C669988EC9984DB415549A825A3CAG7D804NVA8719C668877994A89D392BC855B7AAC58ABCB2B89A93A743EB6LUcdOB2935744778ABD8AC978C9855D5869344428B444D7578EC9D9BGA30932F8698E9B763A8CCE8E767855405C7B73829ECC8BEA9DFDHcdHbXcbZQ7FdzzsSqwd965719A95767B766188A67453A2B93584A98BD859769C93666A9449B27ACA6B785B79A8A74226265574EBCD45C54432BB97788977BB7A468BE98DA088AEA50477352335E9756AB742B87A3715669665198357A93790976436749108343CA767565D8664485315334E7A9CA5ABD6265181B36BMKBGIJDKD9DTlmtjejRA75D8BA58525998758B554351844763555757889A8738449214759864A0A5188891C860659864410065H6BHEDE83B36761455749896AB587424CA9B9554637744767658896347A9463AE6473A99652556576433A740D65626169648A97C5654465716904CB8654597540563CLH81766B5729E8AAC56846DHhuxwwiPB8888A9FD5231758B5CC766A75529B76879039F927C47B1563387AC35654C787C5778089839AC752A96E73755G252A24BA436367B9657843B8434653450655337184628A98777787C469BA7695370527BDD7C6836647E79D42651528D6986696537336113AA8B587D74326235B534455E776D83A63825689JZvzzwaLBAA836IbZK737E6683FWI3429A707A50787A2DE24E966LA87347BC623633E6AQI3078384456ACDB4A4B9938798C86F8DAC428B6B3G865A3BB62755ITA42899064283749D4633487556596B59A479944859AB794734578A746348554455A5463689966555FUD5695BDA97369A45134345A98816008A6365BADQekjbrhSH6BFBPnlQ748D7E91BE868498740B585387DYH7C96CADA76A66887BA89C8ADRE7496254459BA8FB9DRH3754669EB9751A9959527E875968E37475HO99749BA9B77A54BB474287986449AOA568JC68GOHDDD54B225CA4208625AB55785C9B6559B9A456789569RL8A74A94985238363387795C61AE89878A88HMRomvhND9E7IWXG76BF27774669976C697BCF34KVBD87766B59C79A38B55B3A7726PA59997B26A6835JTH8PcS879D8769784782775927588DAAEA532762576563449C9757D9B8EDE4554D6DJSF7404824ACQeJ8PP44464798B286668D74A78BEB8IF469882ABDA6975ED5B8856A4A79135784E545577CBG6GE80F8899GVXSNCB9E66EG88BDDFC9D44867BFTG6A9967JHH5CB9BSIC9C6388997779847A793CACC9876A586226E84AJG6A56426F4247A6B1698689C4275CB8247468282459A860166B8214859BCA7A5F924798779BEI8597678956AFVC81666693761B5466E346FVR9BC8555765C8EBEDAE984D72136B77IBBHA79AKUI779MDF59A798C99A7LO879E9A73945599C8C9C4A5577AA6BCEDMGJ8765845AE7A56879A77CB98DGA59AAB7964245C88333363DDD3332F4A54187F23566ACB4B96586A998A21358BA25649889914593428OD744B8567457A6274495A262368CB76C7666696506MbYFRG16C67BC8F466586CAEKG4347B66A5BIOF776DA885B8B69697893B83KGA9H937678459B7E628E6384957BE75DA9D8A9596714CB6788A878EC9AAAF9599877766564CKC6736EOMA6882CD53764645455D9CB846779985689826846767321316475448AD7CPF6A9A51654678681043594568587AA7437AE9386427F969DD6E45A778663055A97C44A8C853578DWK62BC799385457794485AE6749BD44BPQ7DED3426DFB799B68OA87A4B7EB7626138E4ECD9686398985DE89B893596B6523C56BA36UngJC4868B8A57A95486AUEBCC657A244694B486519A575A4549D9847A47E6B7B9AE457A9B86A752070617446A7377257C5584844B577C2A9824688A4447889785473986939A9E79A76685N65677AFD59626B78979D5ASadNC73435AYcL668394A73859AAC91666496AC9C9FA97E6BF9BB979DB76B36465356IHB97BFVRHB41GCA87654A7A625D9843467869537AF8C6D751C43E225A947577769A9C448CA3886B7BC71023A47476483088644066A577B8B1AA5B4859438CA765659758522SR613A49CCCHAAB8BSF3568ACBA7C769AUJCAB89MWQOBA77577FRH471749BA985157696B53884G96AA8DMOGCGB8ED2DADBD652B40A9B78602787DA9E38855CB8967BCCD77793252744CCA9765A3231ACDAC527CE73B85766BFD8DA8DDGJ84C59B24201585D73A45779562965584FA40344C5A66748DB9254185455B9HF9A15AC9765C797NdQ797AC8748686DBC79BAE9AFD6CA8BFA9774557B585A2B5868BDGT91842B678BKMVeOUYD8BD9B883BB679DC457613729652968EA8A7664B824BB9833A8D96665467DCB9A79A87HXQKA6AA6DD84B34A38E6A882FCAA896765104371242DCB253A458C998CB588888A3D569C86B794047704278547B78ADB8A8B76A5HTM8ACF75471863477450BD7B9555HB4C2858B9B8A7A99B6AA8A97DWACD8BD8FQMRKLJ98A674FDA8B566459E41577D7562188D813F5547874679AC76315LMH8541C57576BC98EF47BF99875CGGKF7DGBDEYI56B5DBA8586C5A99672747777A56AB9ACD5777A744C6686699BDDE73A8H96A3064944DF8BDAD978E535BBA5BC9BC89506784845557A478277AB546AB76B5745739A78CAIBABXYC8FE247FC725CC748AA8CG8A75170A635553965606BPB533FE968999577554H5325E9973543465BB9573BA6868C964LUXUQETcXRYWLEDLNFE9C69E65OSGC41564679241686B7A7735355B462343BA958A4A467ADA6BDHB78C8858GEB8EA488A7B5635A2B5925B68423499979A7729C8336312987762678ACBCHBDDTXD85F8A8E7BB8858427BFHDB7647366755632A95526A937625BAB263339951269B6625CD6712BA7B8C216342B3828487XskUNcnbfuogJcilVJJC7D879DED66A34049620256832485550489953647B68196476IMD7A5855467599C69885BDEC9BF97344540A03389A7578620ED8BB45B44D74327D5524438FFBCE4F76A9AAA84CC5F2ACABA7B8PeQDED9B9C84560381A601523066637F7524486555499DA77APTH54C688A89A646550657535GaupWJWQTQTRPNowxjadO58C876E37655418456705C267B69586739925AA9877856775DNE8363884557ANK67B7A8698D6887848776EB44B531BA8A4DEBB9F5889B58984IC5627869ABBNQCAAA94A37A96725BEB8B986FDMI5557CC6B3131986C81972653B68MZK8557634598A9989567B64556B51C98B95548B393467SnbN78ADCB18DPebRNKF77AA5654895CABEC94699498379AF59347793G87A9487BC03985858A59938BFaYIA9876437DL756C9678587676267663478ADDBB8A96568CBAHC365E63936B8AD7DEB8D6D8C9A86DD86A5558CDA252BA977B3552497A855AQQ68C77H9DBAE67AFB92979E863368BA48AFBA889BC8HPGBA8CDDPJRN885979H87AED988B8A4987AB6651259A486763454625FND8B570A65AA7C9A78689C87868B78B78DI96B29AC8BJTL999C9974C4590508779C6458C58848664798AB44486A608A9CH97DCDD679776A33B78A4586589B4059D4757A77667CB4C37OC8C989B9F9JWIEG751715AA3840078ADBD74A8BB79ABD69A84DF8PiW8595BHTF8CHQTK7A9986B79D523635MPE96255224425173A95845326AO817736E7AA566E9977A9784AB5647FB8H771BCE67927435436F97767388CK63756A7796F5663B891475868AAA8367C758B53BDB785A66GD7E96B8858879547947215C95A77466C769FA77545455757650678FCK899EDA08747979422392CKH7782A5D9689LZUADB698765B353B948D4D77047821127888A6330487JYP1068A85D976ACE742698496558FZVB7CME85A679813132166B68DB8963MW93447642686632556C77877B327A422C583C26876A5AA55558A5747578365E7B9736743A5C754477B5BGC8B517A8828674677467KWC1BWO77867C215228A74B63671BC86347ADFCCDJ9A4867D383BB4267860599472225035E1355646AD6457CB6BC6BCKWL7996AAQM9334CVTA2EQG9D663B048085369B55898BDDCI45047731866489587A6I5B9B445117877950478DBDB8A5B59ADKJGB86C649888571463288A75GR9955ESGCB5C9769CFA554603BD8958988E6551B34731AA5E88754AJ5592477G9AA7ABC68988AA95244675B13113A424255750204559A7B16A458B877ACDEDSP8EOaXF8757D79567ABCA75884756239C8784265392BC767497A9C5193376B584CPB429537B8BA8A69868JOEC98GGDCRQaPPLVHCD9C6352486AABBA1ITA9886BAA87EC9CAKdVC6045ACEA65A3559FQ79B74744477F8D9A94B79AC8A6CLRG399CB8BEA9976B6A64G8AA645B4CADBECB6855FB856AD7946957289CB5EdaOGAFE7A9A8919BEKB646DA9A5557365C61741316A87675A7BAEVF4465420CA685A63017CMCA598365FAAB992742656DGQJFKQPRKA8DB77A6ACDF85666D5AEB586B9DF466FOP6E8E947AC964679CQQIAD9A6LG69D86864D78568C585DFI9GQFB96IWI7278856F434262AE883764A7E557992B92654DAGH9E6DEIJINZrdDC4698C384869GZM2A9587AF9956685O732315E356242A37C59825878CE7585713A278877458A8C955206BB933B99A578666BPNB8AC97AB7D76827AGD95A7BA79CB6632388687694BC6B899ACARYG77589UKFA045659BA78427B9FCFHDPQ98967D56656928738078F4A6714367EA575C7B022748DCEA668NSTSVRUXLAGE8C985434478JB856550984312223992AC56972651045486253263819A65555HMD96369747A49887472G5996279AB8CA270635A978477B9CC465089C976B89E88F964922007E224978645354IL8A8866544D6350648B45B45KF876CEEB96627A6587743DCB789MSD87857767B74458998899445EE8794879799HJB867266831495236B5347238HA3545714AB3A35A8363376889B3191B106576567629374364537909757804E8476HC5668AABC749EA6388568B88836A3BD86ABDC3A6AF8644287CTKC768897969749AG7550156975708A8350959PH68B87A885777B6C987599266377DBAC4886565305A95395810689947A4A947398H7474489G427B213E773775556775035109633569746893658451AB9B65343EA4668A59598364AA27A796649976LRJ76858B4266F697578D5DCAG89DF89773AB967D86A7B86A636588198FC654A655B9E64170A67934B78869A586536B89DA70788B88DBC7FC7698A884B998AA5B6728472EBA6QO676CBA5B9C7569E877H669A787806B8C77A766949CA14419A6778236C686CE7ACA1B5A9522375D858BC749638DA7E85C6CBCBAH899BDP944BCBAB2EDAB8507D636HTDA8C7A7DA79A965A7795646536B7837683878A7B3557CB32ABB5BCECC2BFA9578A568455A84570B955887BTB8NUJ6B3A78996BE551774A8087OH747BDAAEAC26F632B7845479A47AA58CAE632457ITL7AF59355G621ADA353A288CACC874455A98612463C8EC9B9492738934789CHIJEWJ9AEBAC8884A35759B54A77456EN8242CCF9ECE233AA97896A82859B99A66B774326588GE698649697573656E7C78DBAB6AD574726334D63VaJ47CCGFAC96674895BG555568836FC59ADA66CB844A6784531413858B757989778C82198970246363A87AA920BD24756477A35077781A74379B6265A8A07B697D9DFFRJ45267AA76555197BA970495983742568C77FA9C75279093C9ACC98BB6375A5653876267B6788889B518A73IQID86607D77969583A58E9A69B9299B3849457987633855956645KTHE9CA5669565896657A7172016BBA43A6A88763A488B7627EB1BBA5770698A4969BA5394B2785387B9774725BAC5887B997E68BGQLB32388E7088C6699AC824976764646275746397B8666384A6CC9605748A660389D39626F8448979C657C237JEC8544856B367B334658AB75C97AA5C979465C7691576485665BOURZJ39492768E5566307066365235C736E227B694459955254BA38BB0467D739059G5A9C1C4879489G60523916996564868779A5NeU558738C74747DC55CAG4938B8AC588673AA3645CDCA9413BDD6713743338AAD8688675KVNCHE769B6824667B58525A9403695A417E8995A7588B637A7B95585OWC53843624A98AMSN2A9761863899304212A6850579DIK962942670A4D843698A78559D67CB7898B84434348CC75CDEB76005786EB86488ABD288HONBBAFCA4CJDBB15B2B39CAA97EAC9715A696453975CCA879B9B2892160652593EA868756ABSfaG52A8788760DA9686E45566468884DACB77928897358A65A8A48IA69478569519B3442B857375B4332054864165154DBOTA9973960360C65Q795DB5BLLUJEB99BC8AB9627BB78888B8FAA7A6B8BA8982A6A5BE9E57SQJC8CB9649DD605AB39D33766B50679A88C3E66A5586B9545RW84434698151303BH584A8BFRgUDA9B747889C85905B5851086767EC8B7C86CCBAB666B9D67FQFM99976577686A895759B94A68897BA6244937A321674CC7336965575608AA35725BEC96EA7397A685MWE3E5AA674A89DA81675479B7BK95714CA766NlgLAG99FB7A6B03B42BDD5551D24985767FBAA38783287FAABEB844695598049332DA8CEAACER869BDBEA8974307475A849749AE292A56B9PPC66985178FAA6647749734733665488B87A6A84BA5753302184A947A746BAECA64BOXG1B821GOE679779515A3957227GI9DF66A7A9B69GB563967499CB7136C936EBCSYUF6EA6968FEF8988AAA64B43A433A189ISEB555FA254927A9201DD43586174A649IH69AA6489C56E7957436A6022204875669589A64026JUhS3595908863376640478298675835377C9BB99A53FME356548A879C46AB99DFB72AYWI79125HQA584BB7467A5A66B87BEC8ACEB876A977A260756C66495D73847DRIAIO91BC3039IRcRPPOJ6649TOH5B894563699CRGA5BA397A94D58420A9537EH41667CCA458A7D40886A453422442514104651768547A9665JVPH78986869883A746358E9507867249718B8CB457979G9CAD44822689C98ML76D81488DD7A650476467999321978C5588CGCA998ALC2445DIA3977BA863489B26346B9CJODBDA8587EZjZgihUH457KFAEA614BB4368B897FC57C987444C767AS68DPQD275BD638A3CB88676A58570AB4B665683EKE18479ABA68DRVNA798A35847DA738462279A307C11135239NB65593588E88A889235472888HH6329063A3798A96457470AAA6BB765887989E596788A79DDCCACBLXFB4505654D76697B88IN8H9755578HJIOPOH7PUC698364A86954C856568379BA3326BCBB315ACLcUF638987A67AC98AA47C868636CA97635559606659NWbTNHMcT7DA97AB4D2666646ADA7C8A875699235872E7C576A52998BA395A6396786834464GJA3637A96348B8569B9G9E9434667789DDA542388EQSA997FDE87CADB672D9748992785379F842369BAF98AEPbKA994485368CB33875B87ABAAA729B7B885DA45CKQI7A9A8725EB4A89ECB9B88A543866B007855056CWhrkTQHG8C9B7FDSFB98B8676747BA1056489E62938057775988057B628E2585495FC76586BSaM7639OCG4A5235AAFGR76D657989C9BEFA9ACA98DAD539DE539A6568338HB76AB42564891AAC7EAB9ABD886BH94968476ACA8B47582469B9699C68647C655567ABC88A7878E9B588669A546998CA14779AA8A8B5445CMPNKEB7I597968FGCHA6721D76736E54414638BB6BACC6EB9563D7BA34B98757A7B75BB246KNC63BB7E6860657587DD888A76826D7C8746486D7A35577A8767769822759455B85955B6C397AB5B7784B3815B45B5743AC955C49627B66B86469C8478A1697711DPPJA8355878523A5B9A26573EGA6B33536875684C4C875BC6A454A8A973788B9BBE6164DF8527901F77740646592A855A8B6F4784657E6779536F65669655354435555G7854658763727EA69370759566896B776PV934931646754A446A63B74A9A78569888866899683694636259468A9796638A76D9596A83695ARdifK55773E836956BQK4736946D9C79368956676B5616AB56766647884AC9585BCB65236954A42A9G43834A88CED7986673BF52547CD287B36E9AAAC9246865511326A84B279C9795587IB87242417647D65H598IBB9757F442A87A85978196EKG2A37387796588649859A88549BC964854DFFH91537CEG71973966KaadE9C8670A278A77PH87B2556DA8A2A566478A3794AE5572C268501365C56B8CB466A6C766F65BBC777740B55B5AOTDA267FD19B87A8256C6284A6997C835762865B4B747A89FD5556BDA675B395A24AA39F7638ID8A686244B405A999C6ACABE12249774B775213245836758964E9E78FQhmaH8946AFD8A77568658BBG75295AA6A23558AA6704ARYQBF66B7C9B5B8B7776849B86543842A47C7DDBBD755677CJTFE7ACFBHB8BD93798985919AG8B8CK55647ELB3635459785654A7F8598936A78337KHVA753EA75668799B77BNCCAAA72657A1245877756B488D77A8A8668DDCA866426766267AAACGHD889ARnuYJA39C767C9DA594C955898B9A99776843846GB499EelZC5B5585AA8846B9CAEDA7E26996CG797823A585EBHQNJACACA857ADUFC8966323GAED767AAA657A4356F9A488487D6025777996B81388127B6ESIC97550669B778A9795C9D761BA767C3686667D76514853A6377679DCF735955ARF4589B7775CBA7645LSVQ96E6949AKC26AD8B62C78B47A1665GB8B88GQK969CJMI993A68699686B8896369895743588E37AC6B2998ESTNQISVOB46A6AC993975888AC337AA7779FDAC777675A67050BB7949C679A6A0163121C49AA93858897B5953518CBDD8PUJ5C26998EE9WR9A689760176674455BLB884309C36385C56338ECD2696B07FA66B37A9CCA87A57C9DC808396873A8AA1649CEB8749765465DBAD9BS8DN98973B4536545CC876659814696NSddgcrkM89EBDD75869556D5853561446GQH466DA3456CD245B75816B73325B92A9704B683545CA95838561687754CBDPXJB94B67666HVSE98G7869548348753MTO75032782157194620HQK9A5B7545C9BABD795LQE31147366A4995768444FTB46737C74268879956686GA9A235A628445BA2678687B279E8723758ScnqoznR9B796C36FA78EB8573B432BCC8E83227737625D9875435814C178BC8E95668447DB988C875657267BC799ABB8D656C63215785ACD6689AOC7999A2A4AKA70453A137133ED8837D7A2316D55CBD8B9594B7A543A9102116D56685789846KT83456488A782B69EF88985933B769207877728548465D3397DA8EaszgliQF9AB1563B05617774666D538A8024645D996756A860BAA45586A876920777C549F5867A87AGA9538A805B9BIA99AED994136AQLA730984B599898827E75010766A015318H551818B94491A6BFB6MUFCE899177C94932126C5664287586BLE745404369537EDDA9797438267655577FG76479B7ECC87768B37HTbWTMXZM7A2880F76617B7868E806499B647632A7456BA59B70474398AEA4874E8P94A9ACC9BF7A8PB684789989EDCDBAF9766A758ANL775734D992488A67769544322B3324398C545828CID5C53437989F53424886A639659A98CB4454A769468B866407A58BA5AA7E648672A75D987A26B8B5BC7576B7EBA6A5ABE9F9HRimTB848648258729851374863517315487CB46BD69DK859A3B75898C953866A69FNL987CBG8665998B8EAGB878ABFC76GE44B79D454885646957998A9BFCABBA894C3678675A7AC6LbL9B84676BD854293B8A66D7A93766FAD688DOFA6924987C48A8AB9C28764CB4377AA9366AD66ABEA8652135756959A89DMSHCDKcR8AE59878609A25349B8435688A9713GTEC68DA847479C657335B9999A76457DEC67934A71348D7678BDA798D4934IeWI84AB16H95B9A859397B582A87633707A7619738986444AKC8312137C8A375953BEBBGCCF87BB694367497CBCHCC98BA6B7A85DB4286A78756D265749EB68AB47297504520957997AEEG9ABBC8GSHAB1950AA17950450549B7650997B48534B96A7979526931AE98568053BFB85997671744935A37086775A7C99FPIVICB97587689388786937A98865332156759822B849B61884255537987636695D82735385493496602604A58291AAB488924B634801C3234862678784BD4BB639835455407B2356A65C6889DD98A57759988603146B6566887770256484545A9387899A97586934622A655CD8C44C3FF37A88756284BCA8877C9559CCDE69584840A56664B85A87A873438086126300C4B46461996666483862645C7533324B832077835255995A785BG8AE62269B77757840554AA64AA3608888D57AD35356357A28059699916FEAGP8379459F95441689D5AB54046752826B36727A57666988652892786A897664ACD7CGB39CE3809AB9B62216C8935782BC594A8760ACA59J6726497DE865525A53302D9036770787568706666JPEB57718882C45510A769863A359448F96B88E415787255504507A795402647C9BABCDD66A4B6664830475D6655B35FPG4A174A558268B8A69B084920833C0253777387A473CC5AMB9C6FA6729BA97BAFCA596D954779559CE8F587A64486AB96A9132625B75ORI5CNBC8458B7776B865478448775361C84694406CFQKAE63416888BC69BB575367745E76DQN6DAC5497A79598350575942979919AA77557FOB99414956339B8999161370676AC55441E9AB475670892441556B9775307646AD995AAAB777A96BM3516F85633A68776ABCD69677DBF8557B764G96850BHB659A88A89B33GSH93659473945B65A91764663399B3AB2998A5BGB947BA8EP84A85B769729842578D67A9C749976B6999959566843622B94CRG84BA52ETbH589886621205C864DBA57849RXQBBBA78AC636331687C663876BADJB766A69859HAC99B658971AB407A5A444B947246B67454578HSMLMMH8BBB6377874476737888598276C303AD063118837858ABBA88CA7742374A96388A975178VdJC308266AE8G75819826869656C9BCJBCADF771675543296B9MZU64AAB75KW96C873E96D8C7NDBB86D77516OOEPCDCA4486480110A754564A85015664766767759B9CED5587665116AB663I964377C865438948UjjkjkTAB88B58B46754344886657976986969255649851849B333677C776272218736497579E98GLGE73019887QUL32656359C5883866VaN968KC99E4608641BD8FFC957F76E9A5DPMDSJ85A62A8AE988C60344A349783631289871094669C85173515351537459767A76AEBCC5397563BE6249566CD3846884DGLRQUXVZXMAB43424004545323AID158114A3009724035B942227F573446B358C537469988997OaQJC9BD0715659475GE349759575C77C357JSC23LdU963C435345D16255AB688A5A948BA7NG33459697875538908PTM3B639579339I94068AA5541A9CB31460464377A6D579765BGGCA8367BEB77B77356BC8BCHTPSPI7ABAC8BBC38D88555670376JVJ4533607A5B89CB8A8544186JQG943B8D248A2325AFB7C746MTID8AFBG7637533C7A684BCHPC69C59A5BC79E56AMG5645D74456A4983887B6796645635207CE431866A7774A798OXLA963634239UkZEA6C6273469A5176D7164474376ABC6894569GG86BA898C677D3677ETaVQIC5395575838B8866625AC264565FB954412486BQD08A36C8792448B583577AA7BA734A7BC94545494B88A865587781BBE6BCF6CABA2B435610355B444264768888D753B87054ACA83A8A7723840A364787699BEDEB669674D624554FSjUE3B8789B9D2226229B8DA88E9598A65DAC7DAGV86C869A7CAA87CQIHQOIGE4577A5618AABE78DA648997DA8F9AC6775AB556D9323457B4538A5AB49B74C9C2A93D859IUJ7A7AFG973B76580757649A9CB656877B4666328D599A9617558A8C69B78A5B99EBBAB63857CA9472502D97125B956AEEA24553694B436GTB85162806BB47474376624567B8620A4989BA76C79AA888345J5BDNG68FQG71266DF8F869G86767BAD8BA8C9AC8999748B59337D54567AA5BA9489DA2AB66745F743644A9BAAF76655D81132828586B8C898855627673404563C7B9268A955979G89CHB894569AHHCA77AA99437C7596KVKI6B4AB6057276888JL6C8543577A98690865164764102536945FMVTGH997A889D9F7C376GCBCC847B1275678B9ATEE31985AGAA4C93144BA968CAA947884BD384B79C62281357A8496488B468A937D96573863562331752A874825A957221A46B876446GSF926537A799476CAB6865755CB79H459746K73454679FNTO64297186804594IbdPB567A55994B78895203AB56766002883MbqeH683A99C8E756579577K48CIUSD46F757F5ESF9BA65535A72853461A273B8BCAA7AA45B5A66B5784644597B7864326D64845997675A5144069662258B43AA4E8C84438CAA86772787A38345689627DABF68AA6725A583BAC61597B247525B5A34CA3A49449558A64MacL3ACQLA9A768897538119F44804367CC5BQZQC747A795DQDB86BB8BDLD8AVenT87J62JOGETN757378687DA913942468B6A755EC8AAA6E99BBCA996749E425551342C8273589AFC55762667896699C3064389DC5544F96477849NUDABB37146D5B7BVUTOTTKIB98B7AF9HUF3666A626334DA575976G622766342954FIAE7BAA9ADEA754BAA066CA43A696447766586C46D34AG98986C9CC98A7C9TbmQE8M64AA88OS9BBA9793799998345874448974B861B72DBC3175897879AB9A11268786945889FME973214459DACA53C5A678AA824BF0835179A8CG46C68656558AA9FJLQclSQO6HF59784CD75A649AAD54CD8937C7A336665197703034786DA7BDD465A82B982CC7A745D48416A82AB9C96A886A36A7853374655DUTP67E66A788ETOJ9CBCFB7C808867D686A4A17A3C553A9AE7A47853554527D86985562DOG63566A26038D86B73784475DCB875D749B7426364867D99684168EA696797CD8MQFAEAAAEA69DD85A378246749OE654358DAB693769E689776D88DAB96969168361DA8FB2542463669AC8A7942766465F5056A7CA85HBB9E89BCCD5168BSbRA47C7FDB67057967335356A53958866B4426798545761FPI9992833497DA459634532CC77334B9A642A9BBCGB8C3408440C57AAA68B25886C01AA34DB995287C7GDE88A242C284943777F87530238B73526A7A947G9AEAB847B4A367CA48B9A58D7344873E55DSAC754543HRI162A847AB942BE7F987BE8B66137QOF25446IVRM5833B694635556A378157FUH78655F409704B8559738251215B81324A37B4354B42525296368B576E7630274AA38B967A965725A6497949199757EE6A3A973648547372577AD256A4669E38480C9B8767CB64A768AKB4976D632785884921B3C888EIC8A685956LH566A003349JH8BA67738IBB41087KQB76B67897875264E32687372C8ACDCBBC4548AB697296C82343A8B83631ADAA78D75A5137189707177155AC9A377248161538EC5A8A6B9804L55506386459GRF058376A2759PNB2978876529A7324AB44733C7C5564BSE9B679DXN1671544D6465599K9DD7036A1146A971942314903738F9OXCDBA6867FPHJNJLFAC675D699876A94128754B745A57A8967866727708877BB68678669132268C46263692933615D46EHCA5754753657B6ENA2668FSG947A349898CBA654A856A88A68479979825FZeI595968B72876361676276843867778A689D33469A49D9G8C36AA695688B2854676CA7588704045346267AGBCCHEB84BJdadfdZXMA854E65AEEA6863567BB967671464A7561AA66466C549C77743866592A7B88C644317D555304E2173AB5A585A5A579CLPA7BBBAEA9C7566847BA697BBD676446F968CBB7BA755EH55725AAG464A454768A17443AA96A6AB497794A9D25RZOUH952KRC68D76C97887305DB69647447CD8DF68676589BD989EGMNOOOKDA98EJIBCFDIGA877AHLF58A8B1B1334654BMO8COI6396A9NM736719GAE26878862402BA736565033362ABAB9B8CQIF99448678D8ADC63572278A6545289C473BDCE84765679A04A54023505A4C5889AA4A44AGEQFA669C853A6647HBDBIOLCADB1CHB7A2476A897G758644400E85337B4FA77A9719D8CCC8598C853888BE99EDE77D997D569937B9B56618A5488FLMRYS8663A8QFBBA99B763714387206307A6457935097B6CA97330FXT90522057965B8CD6A686C6B738399CB7B3BA9AA774744D90472C089217B9D67967B353146EAC653BB774CE99457B6598ADD97612747359986HRH85B662276262689514736759B649747A9AB7578895B7578HC6C87BC975329JRJ4673742567C9BGNRICE74E7AD554751DSJ6793A30526859A9C9B86366G59E75456E964674349B91B78C9568A63256771F698A8AA9D9657664B34B7257376363A579C9C65536476GVE485A9C9879797BE3673975247487561674A7AFD7846717I40617599B73328898BEJAHA8BC78757A97897C1984C999B852A445E7926533459B336B7HPYQF6B207A9B8B9BME93542B2639C7ADA8646B53CTGJXVD89DCA7314161659B6BO9D785AC6756375C76C878AF5B544327787641369A9981479894942147799FIB7676CC8396699DA2936DB46450C26854005B6978552FIGR477B5AC967763B4537LWL67FA8744HSQG977B5278AC6474951465449AHRC4A5DD956369CJTNPQIA853B986B8555B678BDB3C8774B766835D98ADWTAA944B356534A36594AB7C9A86B978988BA6778961D549772147760494BA5397A848C34EFE468864A8B859A9BE6B86BE896917563871245545033C36539872KWME35764E4675857B84899H7597A536FXnkO7CHI4A97478B179956266788A6AEA7A66A4646B4674IPP8587537G7689C8AA675675773590475692BAHKA7858562563684773668O9XXJ31KLEE97ACB985A96D6A66827A8BB9A99BA7546F875385ASWM54BDC9FE67FG749G488H676F4347687C55349236349D67065664BHDD24C6HZH158435AF9AA8C27973B77BTaVEBUiXIML954FC26D5651566850177855374D579GC594BAA56CAC919865B95944464E47309B555555473F48A58586E777787679587GDSaHAGajWA87BDA8CD68K999BBBBGF457C46POB7854AAA73AA59D676837JZZ99C74899ACE655677909CA78A6CFRE9B8797A45051B8CA48AA63598964638BB4935B6769BSO989CA8DZgYWbVFAGB177DA66888168654A693523C9DB8BBAB89CC9IHDB8927C4427C438CNG434776067FK985EB6BA7B86D8C85999434496GXgVOLTVL9C939A787AJXJ782764BKB64826EI6649658B6639726456056EKI6GA588767763EQM5A8896BB97A999979462999CA5977638P2C7763244G8566A7424736475GA227705JZlXaZXH8A9B7684944543E445656DA218637DDB2996F997B7759D969C97786645C5857989AC5MTF967H797CBBC3764ACC964628AGZjYOMNI6559468E8699DD5467796D67655395A44688CA8DF8707874612443A6321986AB858LKA55DAAD5C59855EC659154B32647537A6117951342DE8B4448A8A8003593659907KkiPZYVAA97773287A7645G101497KPB2A665C89586037CA7515AB9CAA498437489B507547A5AYhG88B78B765CBB44369D227A5779TbOOLN9AA796269C8846378274778859BB8555A94298EACBC5970185841408764468BDD44943C6048AC96BG26929326203E371347C572432485478395A66657666C489C567795EQljQMSHAA6AC7B59077434A4527007CCC8C98A8BA93139A3A79587348956B688555797038CB87JO999E8AA8H7B8995648647666C8DWbKIJ9VWJA88696A980FB36768A84C7DA4636785769B79AGE89846E8306438999DAEH7DHDAB7861657EA67A9D9967261586468CB5B15B48A252594454665743290885EA6767CNcgfeK87EEG78981B692457748C67CBC88977C69B685E65B54102397469919BD89CC88A73937466955AE75B87179A876479D8408FPHDRUE9DAPWH86601A6B83CA25AA66C09979486958A768AB8209B287NWLA8CCA6424514B8JQKB808448526AA9736679451417CD89CC67C3A35D862562743A938733809977CI58BIbmqvlNCA77DME9BBD6IA37847AA8CNF7F37C7C67B8BJSD7C59A89BF36168849E6584154B627C998AGAC979CAB9977DBA89C97663CG859B5692A97478836D30476757537449BA7681CA964896349337EA98C7333876653206669K95AA88779986699852B7228589565AA74077037A98782424539C29I7C79F29BCGDPMaqvvqSC7754C8CIF95574B82A047FOG7995A4474A964E45BB337656405755A9A7C79BEDBB7479BA39498B69NcL7C2C88368A7D86ABBC9549C76E85928E56541238868AAB9D969573747657DD8874307669511768B830554385A84A8C774565F3505BF7A9A78963906699C9D3466AA875353354BACEVJ64730598F8CBRdoibPUYF58A77ELUB39568C8656A79F6369BABA52163299631559C6424684C7576DTREQE45ACBA45757B85OSL7D5AB3666D9A81948A639C89667A9A8A3486066DB65A73ALG934556377884B8901308C67031377F6537588974C575B84A874A95A37787433368251064B56EPS1545C6344516474977443531389FA9CCGGIDGWaJ74BC46BSB429639C7367A8FD8B856B95649565D88656B7A96A36A9BAA86DED8766FCD9825955963694H7EA589KTJA25523AC8BF944AA5ACA81663056B478540EYJ564148A86981AG828218A3267433879024CC6473KJ7238765210765546F66328579551F7477FYU83CA5B611218D50098266B84789MUBAC68D459J97B77D76A8745319757A77AC999B6ENE3176263D6348D85ENEC51CA9574488B5678LB85C43884995677BABBA8DBHBC59793877AA85CEB8CC8715433022823965E94569547A4C66BJCE9BC9893013465916E4647D044GQBA3A758437A8A79758461415A628B45445IE54343DAH9B84A9699443AA97C6A8B98686B813B9C45A67749A88553651788DB4ACCA3CB97756249654B6324977DC788A3BA53BKQ95B889EB48B5479DTVHAGGGB259894A56A9A7B8AACA69965355617987C44898A8A958545F3474OZO7854CB8A7C8A665551B9EC8566DSOB6867839B94165DBA5A99694325B69997982AC6664584667BBDC7AEBB64536A847898B77ITK49A204FB977E934220339A89B45774871CA98F816E8A744868C89B7FEB9989SWGB251ECA8E97735FOTJQdlT897A63095856EB39A284AA5555BA793469A6AA2648B91A56HXJ8C39F7C854BC8A5548ML9005467H45757MQ94A9479983918AAB7153577B695BAD86A9G7129534704698103049EAD72446GE9BE4DCBBBDA4363347K889E756D7733525CA51755996CEA7A88843977B39E8A6BCNQSZibQMgKA6BAC49HRKB97D66FNfniNC64E857C0275660A8894EME7498555C9BF8A99A6BBE785B89E7B9D97MTH052598590DXYD0601655CCB8DHLHA7BBD76657534635832676C6756AA9B9125B86481824488050A10630AA8A63A56A7D756566346006KWJ9A7677P4536A67FE8534649A8457BAD5775277BBA8278JDHSjmcTJGD99BG4737F8DAB8523IYdTD415A13A727E558109A73GJE37B755762IRG686A6898497AEABB77C8859A230AAA3038DB966646C97907A9TP8C9068D8042449988434AD877946C56970ALK6247524597500597B7762CB55647879754454889883FEB79031HRBPG4879BC7698DC9A4588C7943D651ED5FJB6QWbeWTdeTCCE6DFD5621834C7766A4BG6841AB769344A563B603808467775D39A65DB8647567C4442AB991556B57859D658D14386A87098A43B7ATULN7G958B6A87435B5265B6E997A86NYG32203SWCA892775AA7C546D559659C6354829A6E3768475CB87C852225GX77FAB9CAE69ASR88662469EB98896EB42LUK7UonpfIWlWFGBBHD8A958778FA339877CB985877447DD96786683898CDAA6A558208469D799H77479892E925757B4C98696AC156A9B6A9GKE40ECARXFCLF6478546E55AC8152A9D6666397E7532865DN7FEBA7A19051675040144A544099A86767EA865905485582259SAC8A78C9C8HEGB4594D8B75771375LS616639JPPSKQPOMNI9H9B68A3697468853288A074B89586B5567C58457AHDD78588396635A75419665A266111896765A8KC766679699AA9464759959784AC6C65F7479B49FDC8179599A6382568B6677ABA6725886674AA78339342867A2374H98BD5F8C6297344C9438B657I987878FA4678D89789GVF6D43425379797678A78DLjoZbcO5FLA675689543801948B51538B2B6982866A77AA9JRL659888CB4437EB4A9B44459525227E55897797864584754475688847A5645A9D7A258B26489975464689TIB7744596A3459875D645475335B94976DA9A8A899AB2949F3457E9024257A70536879A46A539794722898452CRB3D3335447583877BB797NejPIH68CD9BABB988626C9566C65A8550889D7754874FLCDEA4C96646C88A9DDA34B0068A468175D839AB95B15B8BD563447555555963458B977556C55D993577A643AE3A5643342C302284356548415664017599A315739882495AB77714B5332CB62376664568A688B5199818736837799951073769D92568A8D6CPQA97A4B99D892813B3576C8A496864054368BQD769B6BCBB3946136675B4174705825387332083CA563B6594488866CA7FC78A75B9B4499A5257335545458635D95856675456616C3585W655796527B4AGHH948454113255851443440500C34594712773827A99954HSHA75170A78731817ED46807C87BB87A94927A9AB69BD9B86546476547763D7AA6377694553E887B577A6C7A830898434597A966B6A398600A9DDA3236072CCEA9D47AA77D67478A769BB9566A748885A6B654DSF20368855051594700553755924768ARWPP5565B0469647A3125759JE97A7CUH94472568A67CB99BAAD715666DA6515FLXH9A34106LA776CFC75BDQG785B87D976CO61985395A745B394E975747149C776CF978DC66AOVK35B695C608641CE082KPH332051647DYH8773GQG478AA9B447DHUK7944A9BB5A186EB1A6593006P917040068533505459D632753AA6B59043466AC1BA859D4516265B747069C464CH8599575CA722187B9C5GB58C838529ABA94EAC97BDB8B6446D3A9B66A97425BA7D524553B86737AA8B7754B9C5C6937062588CB068A6B5565B94D922366209C697ABB540287A5B57407433225839577D95052209349A475556136317571025A8857";
var cm=[[0,255,0,0],[0.075,255,0,0],[0.165,255,128,0],[0.251,255,255,0],[0.427,0,255,0],[0.6,0,255,255],[0.78,0,0,255],[0.843,80,0,200],[0.89,90,0,140],[0.94,70,0,70],[1,0,0,0]];
function col(l){for(var k=1;k<cm.length;k++){if(l<=cm[k][0]){var a=cm[k-1],b=cm[k],t=(l-a[0])/(b[0]-a[0]);return [Math.round(a[1]+(b[1]-a[1])*t),Math.round(a[2]+(b[2]-a[2])*t),Math.round(a[3]+(b[3]-a[3])*t)];}}return [0,0,0];}
var pal=[];for(var i=0;i<64;i++)pal.push(col(i/63));
var off=document.createElement("canvas");off.width=NX;off.height=NY;var ox=off.getContext("2d"),im=ox.createImageData(NX,NY),d=im.data;
for(var i=0;i<NX*NY;i++){var p=pal[A.indexOf(D.charAt(i))];d[i*4]=p[0];d[i*4+1]=p[1];d[i*4+2]=p[2];d[i*4+3]=255;}
ox.putImageData(im,0,0);
var cv=document.getElementById("c"),cx=cv.getContext("2d");cx.imageSmoothingEnabled=false;cx.imageSmoothingQuality="low";
cx.drawImage(off,0,0,NX,NY-1,0,0,497,530);cx.drawImage(off,0,NY-1,NX,1,0,530,497,7);cx.fillStyle="#fff";cx.fillRect(40,530,1,7);})();</script>
</body></html>
